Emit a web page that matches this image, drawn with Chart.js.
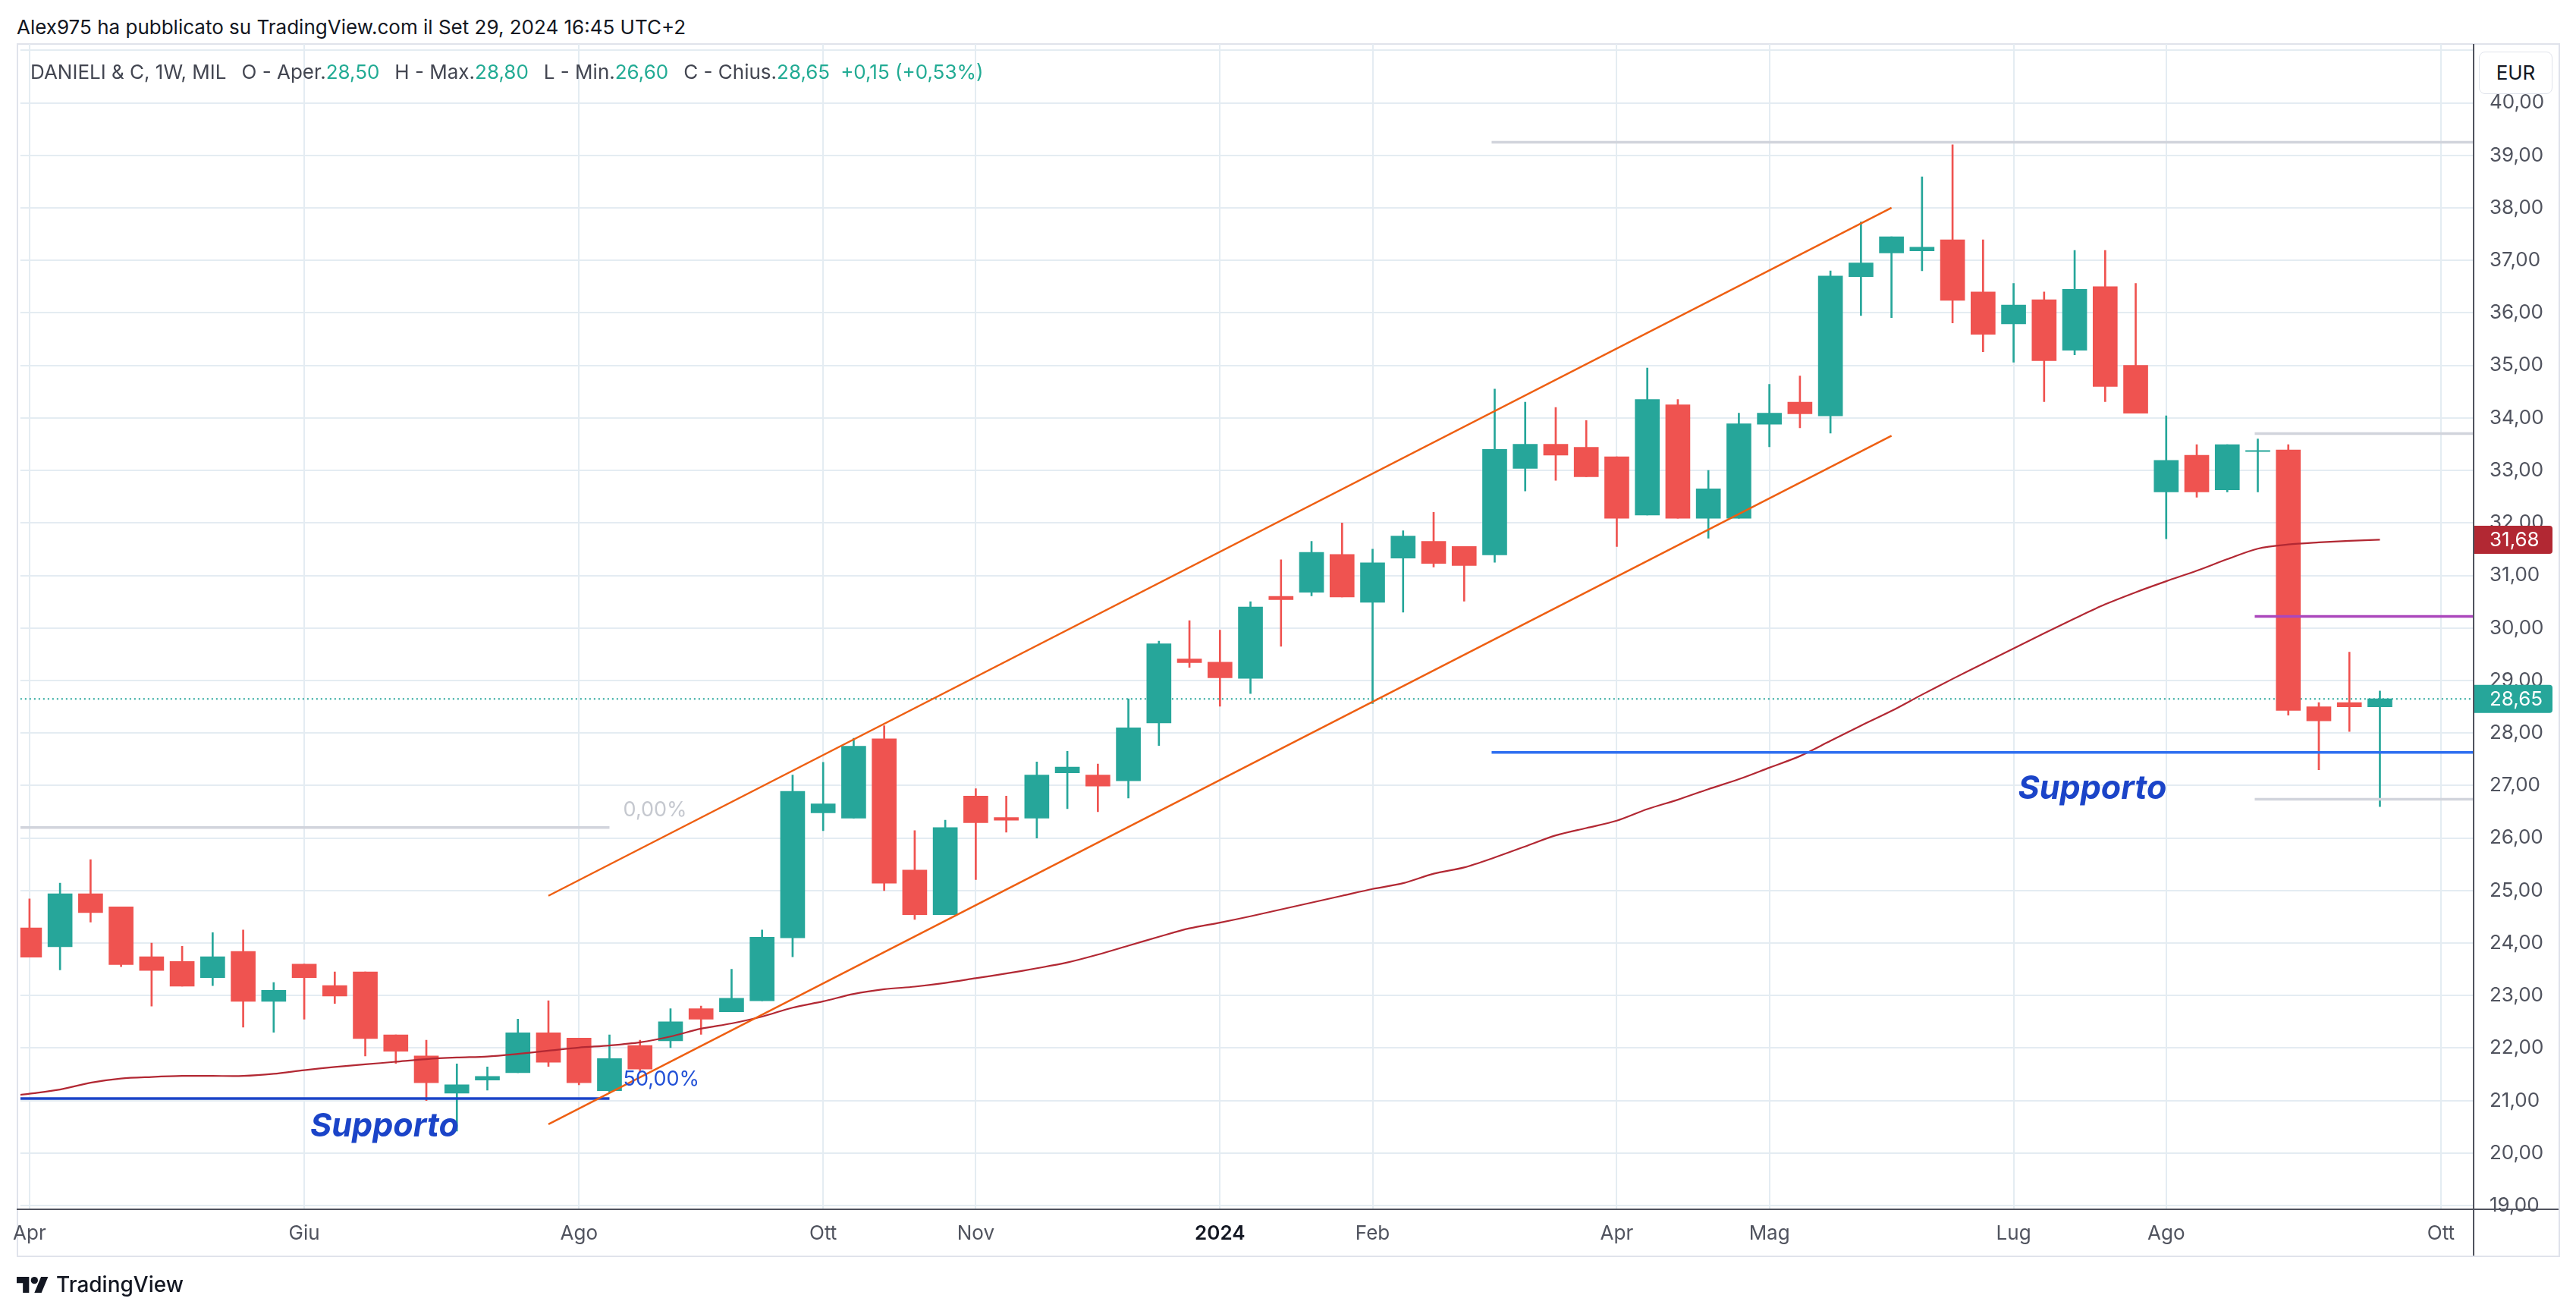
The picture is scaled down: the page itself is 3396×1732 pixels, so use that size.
<!DOCTYPE html>
<html>
<head>
<meta charset="utf-8">
<script src="https://cdn.jsdelivr.net/npm/chart.js@4.4.1/dist/chart.umd.min.js"></script>
<style>
  html, body { margin: 0; padding: 0; background: #fff; }
  body { width: 3396px; height: 1732px; position: relative; overflow: hidden; font-family: Inter, sans-serif; }
  #title { position: absolute; left: 22px; top: 20px; font-size: 26px; color: #131722; white-space: pre; }
  #frame { position: absolute; left: 22px; top: 57px; width: 3349px; height: 1596px; border: 2px solid #e0e3eb; }
  #chart { position: absolute; left: 0; top: 0; }
  #legend { position: absolute; left: 40px; top: 79px; font-size: 26px; color: #434651; white-space: pre; }
  #legend .v { color: #22ab94; }
  #legend .g { margin-left: 20px; }
  #eur { position: absolute; left: 3268px; top: 68px; width: 95px; height: 54px; border: 1.5px solid #e0e3eb;
         border-radius: 8px; background: #fff; font-size: 26px; color: #131722; text-align: center; line-height: 54px; }
  #brand { position: absolute; left: 22px; top: 1676px; height: 34px; display: flex; align-items: center; }
  #brand span { margin-left: 10px; font-size: 28px; font-weight: 500; color: #131722; }
</style>
</head>
<body>
<div id="title">Alex975 ha pubblicato su TradingView.com il Set 29, 2024 16:45 UTC+2</div>
<div id="frame"></div>
<canvas id="chart" width="3396" height="1732"></canvas>
<div id="legend"></div>
<div id="eur">EUR</div>
<div id="brand">
  <svg width="42" height="21" viewBox="0 4 36 18"><path d="M14 22H7V11H0V4h14v18Z" fill="#131722"/><circle cx="20" cy="8" r="4" fill="#131722"/><path d="M28 22h-8l7.5-18h8L28 22Z" fill="#131722"/></svg>
  <span>TradingView</span>
</div>
<script>
// ===== DATA (weekly candles, Apr 3 2023 -> Sep 23 2024) =====
const opens = [24.29, 23.93, 24.94, 24.69, 23.74, 23.65, 23.34, 23.84, 22.89, 23.60,
  23.19, 23.45, 22.25, 21.85, 21.14, 21.39, 21.53, 22.29, 22.19, 21.19,
  22.05, 22.14, 22.75, 22.69, 22.90, 24.10, 26.48, 26.38, 27.89, 25.39,
  24.54, 26.80, 26.39, 26.38, 27.24, 27.20, 27.09, 28.19, 29.41, 29.35,
  29.04, 30.60, 30.68, 31.40, 30.49, 31.33, 31.65, 31.55, 31.39, 33.04,
  33.50, 33.44, 33.26, 32.15, 34.25, 32.09, 32.09, 33.88, 34.30, 34.04,
  36.69, 37.14, 37.18, 37.39, 36.40, 35.79, 36.25, 35.29, 36.50, 35.00,
  32.59, 33.29, 32.63, 33.36, 33.39, 28.50, 28.58, 28.50];
const highs = [24.84, 25.14, 25.59, 24.69, 24.00, 23.94, 24.20, 24.25, 23.25, 23.60,
  23.45, 23.45, 22.25, 22.15, 21.70, 21.64, 22.55, 22.90, 22.19, 22.25,
  22.15, 22.75, 22.80, 23.50, 24.25, 27.20, 27.44, 27.90, 28.14, 26.14,
  26.34, 26.94, 26.80, 27.45, 27.65, 27.41, 28.65, 29.75, 30.14, 29.96,
  30.50, 31.30, 31.65, 32.00, 31.50, 31.85, 32.20, 31.55, 34.55, 34.30,
  34.20, 33.95, 33.26, 34.95, 34.35, 33.00, 34.09, 34.64, 34.80, 36.80,
  37.73, 37.45, 38.59, 39.20, 37.39, 36.56, 36.40, 37.19, 37.19, 36.56,
  34.04, 33.49, 33.49, 33.60, 33.49, 28.58, 29.54, 28.80];
const lows = [23.73, 23.49, 24.40, 23.55, 22.80, 23.18, 23.19, 22.40, 22.30, 22.55,
  22.85, 21.85, 21.71, 21.00, 20.42, 21.20, 21.53, 21.65, 21.30, 21.15,
  21.55, 22.01, 22.26, 22.69, 22.90, 23.74, 26.14, 26.38, 25.00, 24.45,
  24.54, 25.21, 26.11, 26.00, 26.56, 26.50, 26.76, 27.76, 29.25, 28.51,
  28.75, 29.65, 30.61, 30.59, 28.56, 30.30, 31.16, 30.51, 31.25, 32.61,
  32.81, 32.88, 31.55, 32.15, 32.09, 31.71, 32.09, 33.45, 33.81, 33.71,
  35.95, 35.91, 36.80, 35.81, 35.26, 35.06, 34.31, 35.20, 34.31, 34.09,
  31.70, 32.49, 32.59, 32.59, 28.34, 27.30, 28.03, 26.60];
const closes = [23.73, 24.94, 24.58, 23.59, 23.48, 23.18, 23.74, 22.89, 23.10, 23.34,
  22.99, 22.18, 21.94, 21.34, 21.30, 21.46, 22.29, 21.73, 21.34, 21.80,
  21.60, 22.50, 22.55, 22.95, 24.11, 26.89, 26.65, 27.75, 25.14, 24.54,
  26.20, 26.29, 26.34, 27.20, 27.35, 26.99, 28.10, 29.70, 29.34, 29.05,
  30.40, 30.54, 31.44, 30.59, 31.24, 31.75, 31.23, 31.19, 33.40, 33.50,
  33.29, 32.88, 32.09, 34.35, 32.09, 32.65, 33.89, 34.09, 34.08, 36.70,
  36.95, 37.45, 37.25, 36.24, 35.59, 36.15, 35.09, 36.45, 34.60, 34.09,
  33.19, 32.59, 33.49, 33.38, 28.43, 28.23, 28.50, 28.65];
const movingAvg = [21.13, 21.21, 21.34, 21.42, 21.45, 21.47, 21.47, 21.47, 21.51, 21.58,
  21.64, 21.69, 21.74, 21.79, 21.82, 21.84, 21.89, 21.95, 22.01, 22.05,
  22.11, 22.22, 22.37, 22.47, 22.60, 22.77, 22.89, 23.03, 23.12, 23.17,
  23.24, 23.33, 23.42, 23.52, 23.63, 23.78, 23.95, 24.12, 24.28, 24.39,
  24.51, 24.64, 24.77, 24.90, 25.03, 25.14, 25.32, 25.44, 25.63, 25.84,
  26.05, 26.19, 26.33, 26.55, 26.73, 26.93, 27.12, 27.34, 27.56, 27.85,
  28.14, 28.42, 28.73, 29.03, 29.32, 29.61, 29.90, 30.18, 30.45, 30.68,
  30.89, 31.09, 31.31, 31.51, 31.59, 31.63, 31.66, 31.68];
const maBeforeStart = 21.11;   // MA value at the left pane edge (week -0.3)

const timeTicks = [0, 9, 18, 26, 31, 39, 44, 52, 57, 65, 70, 79];
const timeLabels = ['Apr', 'Giu', 'Ago', 'Ott', 'Nov', '2024', 'Feb', 'Apr', 'Mag', 'Lug', 'Ago', 'Ott'];
const priceTicks = [19, 20, 21, 22, 23, 24, 25, 26, 27, 28, 29, 30, 31, 32, 33, 34, 35, 36, 37, 38, 39, 40, 41];

// drawings (week index / price)
const channelWeeks = [17, 61];
const channelTop = [24.90, 38.00];
const channelBottom = [20.55, 33.66];
const fibLevels = [26.20, 21.04];          // 0,00% and left support
const rightSupport = 27.63;
const rightTop = 39.25;
const boxLevels = [33.70, 30.22, 26.74];    // gray, purple, gray
const noteText = ['Supporto', 'Supporto', '0,00%', '50,00%'];
const noteWeek = [9.2, 65.15, 19.45, 19.45];
const notePrice = [20.31, 26.75, 26.41, 21.29];

// ===== STYLE =====
const UP = '#26a69a';
const DOWN = '#ef5350';
const MA_COLOR = '#b22833';
const GRID = '#e4ecf2';
const AXIS_TEXT = '#50535e';
const X_MIN = -0.3;
const X_MAX = 80.07;

const fmt = v => v.toFixed(2).replace('.', ',');

// ===== LEGEND =====
const last = closes.length - 1;
const chg = closes[last] - closes[last - 1];
const pct = chg / closes[last - 1] * 100;
document.getElementById('legend').innerHTML =
  'DANIELI &amp; C, 1W, MIL' +
  '<span class="g">O - Aper.</span><span class="v">' + fmt(opens[last]) + '</span>' +
  '<span class="g">H - Max.</span><span class="v">' + fmt(highs[last]) + '</span>' +
  '<span class="g">L - Min.</span><span class="v">' + fmt(lows[last]) + '</span>' +
  '<span class="g">C - Chius.</span><span class="v">' + fmt(closes[last]) + '</span>' +
  '<span class="v" style="margin-left:14px">' + (chg >= 0 ? '+' : '') + fmt(chg) + ' (' + (pct >= 0 ? '+' : '') + fmt(pct) + '%)</span>';

// ===== DATASETS =====
const weeks = opens.map((_, i) => i);
const candleColors = weeks.map(i => closes[i] >= opens[i] ? UP : DOWN);

function seg(xs, ys, color, width, order, dash) {
  return {
    type: 'line',
    data: xs.map((x, k) => ({ x, y: ys[k] })),
    borderColor: color,
    borderWidth: width,
    borderDash: dash || [],
    pointRadius: 0,
    fill: false,
    tension: 0,
    order
  };
}

const datasets = [
  {
    type: 'bar',
    data: weeks.map(i => ({ x: i, y: [Math.min(opens[i], closes[i]), Math.max(opens[i], closes[i])] })),
    backgroundColor: candleColors,
    barThickness: 32,
    grouped: false,
    order: 10
  },
  {
    type: 'bar',
    data: weeks.map(i => ({ x: i, y: [lows[i], highs[i]] })),
    backgroundColor: candleColors,
    barThickness: 2,
    grouped: false,
    order: 11
  },
  seg([X_MIN, X_MAX], [closes[last], closes[last]], UP, 2, 12, [2, 4]),
  {
    type: 'line',
    data: [{ x: X_MIN, y: maBeforeStart }].concat(weeks.map(i => ({ x: i, y: movingAvg[i] }))),
    borderColor: MA_COLOR,
    borderWidth: 2.2,
    pointRadius: 0,
    fill: false,
    tension: 0.3,
    order: 5
  },
  seg(channelWeeks, channelTop, '#ee5f12', 2.5, 2),
  seg(channelWeeks, channelBottom, '#ee5f12', 2.5, 2),
  seg([X_MIN, 19], [fibLevels[0], fibLevels[0]], '#d1d4dc', 3.5, 3),
  seg([X_MIN, 19], [fibLevels[1], fibLevels[1]], '#1b44c8', 3.5, 3),
  seg([47.9, X_MAX], [rightSupport, rightSupport], '#2f6ff0', 3.5, 3),
  seg([47.9, X_MAX], [rightTop, rightTop], '#d1d4dc', 3.5, 3),
  seg([72.9, X_MAX], [boxLevels[0], boxLevels[0]], '#d1d4dc', 3.5, 3),
  seg([72.9, X_MAX], [boxLevels[1], boxLevels[1]], '#ab47bc', 3.5, 3),
  seg([72.9, X_MAX], [boxLevels[2], boxLevels[2]], '#d1d4dc', 3.5, 3)
];

// ===== OVERLAY PLUGIN: notes, axis lines, price tags =====
const overlay = {
  id: 'overlay',
  afterDatasetsDraw(chart) {
    const { ctx, scales: { x, y } } = chart;
    ctx.save();
    ctx.textBaseline = 'alphabetic';
    ctx.textAlign = 'left';
    noteText.forEach((t, k) => {
      if (t === 'Supporto') {
        ctx.font = 'italic bold 43px Inter';
        ctx.fillStyle = '#1b44c8';
      } else if (t === '0,00%') {
        ctx.font = '27px Inter';
        ctx.fillStyle = '#c5c8cf';
      } else {
        ctx.font = '27px Inter';
        ctx.fillStyle = '#2150d6';
      }
      ctx.fillText(t, x.getPixelForValue(noteWeek[k]), y.getPixelForValue(notePrice[k]));
    });
    ctx.restore();
  },
  afterDraw(chart) {
    const { ctx, chartArea: a, scales: { y } } = chart;
    ctx.save();
    ctx.strokeStyle = '#50535e';
    ctx.lineWidth = 2;
    ctx.beginPath();
    ctx.moveTo(22, a.bottom); ctx.lineTo(3373, a.bottom);
    ctx.moveTo(a.right, 58); ctx.lineTo(a.right, 1655);
    ctx.stroke();

    const tags = [[movingAvg[last], MA_COLOR], [closes[last], UP]];
    ctx.font = '26px Inter';
    ctx.textBaseline = 'middle';
    ctx.textAlign = 'left';
    tags.forEach(([v, c]) => {
      const py = y.getPixelForValue(v);
      ctx.fillStyle = c;
      ctx.beginPath();
      ctx.roundRect(a.right + 1, py - 18.5, 103, 37, [0, 4, 4, 0]);
      ctx.fill();
      ctx.fillStyle = '#fff';
      ctx.fillText(fmt(v), a.right + 21, py + 1);
    });
    ctx.restore();
  }
};

// ===== CHART =====
Chart.defaults.font.family = 'Inter';

new Chart(document.getElementById('chart'), {
  type: 'bar',
  data: { datasets },
  plugins: [overlay],
  options: {
    responsive: false,
    animation: false,
    devicePixelRatio: 1,
    layout: { padding: { left: 22, top: 58, right: 23, bottom: 77 } },
    plugins: { legend: { display: false }, tooltip: { enabled: false } },
    scales: {
      x: {
        type: 'linear',
        min: X_MIN,
        max: X_MAX,
        offset: false,
        afterFit: s => { s.height = 61; },
        afterBuildTicks: s => { s.ticks = timeTicks.map(v => ({ value: v })); },
        grid: { color: GRID, lineWidth: 2, drawTicks: false, offset: false },
        border: { display: false },
        ticks: {
          padding: 17,
          maxRotation: 0,
          autoSkip: false,
          color: c => (c.tick && c.tick.value === 39) ? '#131722' : AXIS_TEXT,
          font: c => ({ family: 'Inter', size: 26, weight: (c.tick && c.tick.value === 39) ? '600' : '400' }),
          callback: v => timeLabels[timeTicks.indexOf(v)] || ''
        }
      },
      y: {
        type: 'linear',
        position: 'right',
        min: 18.93,
        max: 41.12,
        afterFit: s => { s.width = 112; },
        afterBuildTicks: s => { s.ticks = priceTicks.map(v => ({ value: v })); },
        grid: { color: GRID, lineWidth: 2, drawTicks: false },
        border: { display: false },
        ticks: {
          padding: 21,
          color: AXIS_TEXT,
          font: { family: 'Inter', size: 26 },
          callback: v => v === 41 ? '' : fmt(v)
        }
      }
    }
  }
});
</script>
</body>
</html>
